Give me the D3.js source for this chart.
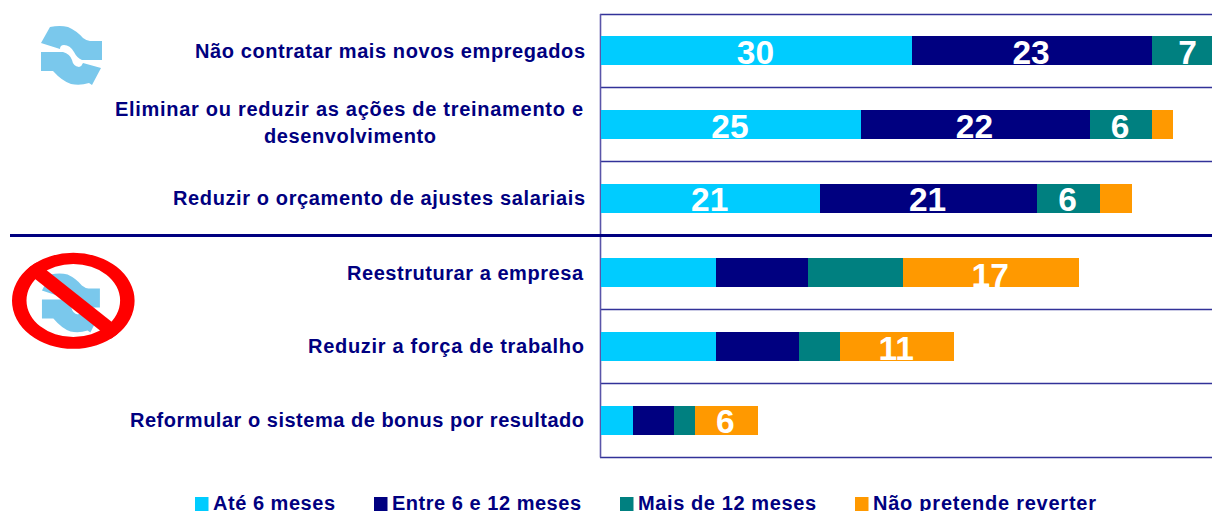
<!DOCTYPE html>
<html><head><meta charset="utf-8">
<script src="https://cdn.jsdelivr.net/npm/d3@7"></script>
<style>html,body{margin:0;padding:0;background:#fff;overflow:hidden}svg{display:block}
text{font-family:"Liberation Sans",Arial,sans-serif;font-weight:bold}</style></head>
<body><div id="c"></div>
<script>
const categories = [
  ["Não contratar mais novos empregados"],
  ["Eliminar ou reduzir as ações de treinamento e","desenvolvimento"],
  ["Reduzir o orçamento de ajustes salariais"],
  ["Reestruturar a empresa"],
  ["Reduzir a força de trabalho"],
  ["Reformular o sistema de bonus por resultado"]
];
const seriesNames = ["Até 6 meses","Entre 6 e 12 meses","Mais de 12 meses","Não pretende reverter"];
const seriesColors = ["#00ccff","#000080","#008080","#ff9900"];
const upTo6 = [29.9,25,21.1,11.05,11.05,3.1];
const from6to12 = [23.1,22,20.8,8.85,8,3.9];
const over12 = [7,6,6.1,9.15,3.95,2];
const noRevert = [0,2,3.1,16.95,10.95,6.1];
const labelled = [[1,1,1,0,0,0],[1,1,1,0,0,0],[1,1,1,0,0,0],[0,0,0,1,1,1]];
const W=1212,H=511;
const svg=d3.select("#c").append("svg").attr("width",W).attr("height",H);

const x=d3.scaleLinear().domain([0,58.3]).range([601,1207.3]);
const y=d3.scaleBand().domain(d3.range(categories.length)).range([14,457.5]);
const barH=29;
const navy="#000080";

// grid
const g=svg.append("g");
d3.range(categories.length+1).forEach(i=>{
  const yy=i<categories.length? y(i):457;
  if(i===3) return;
  g.append("line").attr("x1",600).attr("x2",W).attr("y1",Math.floor(yy)+.5).attr("y2",Math.floor(yy)+.5)
    .attr("stroke",navy).attr("stroke-width",1.3).attr("opacity",.8);
});
g.append("line").attr("x1",600.5).attr("x2",600.5).attr("y1",14).attr("y2",457.5).attr("stroke","#5a55a8").attr("stroke-width",1.6);

// bars
const all=[upTo6,from6to12,over12,noRevert];
const stack=d3.stack().keys([0,1,2,3]).value((d,k)=>all[k][d])(d3.range(categories.length));
const barY=i=>Math.round(y(i)+y.bandwidth()/2-barH/2);
stack.forEach((s,k)=>{
  s.forEach((d,i)=>{
    if(d[1]===d[0])return;
    svg.append("rect").attr("x",Math.round(x(d[0]))).attr("y",barY(i))
      .attr("width",Math.round(x(d[1]))-Math.round(x(d[0]))).attr("height",barH).attr("fill",seriesColors[k]);
  });
});
// value labels
const valueDy=[27.5,27.5,26.5,28.5,27.5,27];
stack.forEach((s,k)=>{
  s.forEach((d,i)=>{
    if(!labelled[k][i])return;
    const cx=(x(d[0])+x(d[1]))/2-1;
    svg.append("text").attr("x",cx).attr("y",barY(i)+valueDy[i])
      .attr("text-anchor","middle").attr("font-size",33.5).attr("fill","#fff").text(Math.round(all[k][i]));
  });
});

// heavy separator
svg.append("line").attr("x1",10).attr("x2",W).attr("y1",235.5).attr("y2",235.5).attr("stroke",navy).attr("stroke-width",3);

// category labels
const labelRight=[585,583,585,583,584,584];
const labelWidth=[[390],[468,172],[412],[236],[276],[454]];
const labelDy=[7.5,6,6,7,6,6];
categories.forEach((lines,i)=>{
  const cy=y(i)+y.bandwidth()/2;
  lines.forEach((t,j)=>{
    svg.append("text").attr("x",(lines.length>1&&j===1?436:labelRight[i])-labelWidth[i][j])
      .attr("y",lines.length===1?cy+labelDy[i]:cy-9+j*27.5)
      .attr("textLength",labelWidth[i][j]).attr("lengthAdjust","spacing")
      .attr("font-size",20).attr("fill",navy).text(t);
  });
});

// legend
const legendX=[195,374,620,855];
const legendTextX=[213,392,638,873];
const legendWidth=[122,189,178,223];
seriesNames.forEach((t,k)=>{
  svg.append("rect").attr("x",legendX[k]).attr("y",497).attr("width",13.5).attr("height",14).attr("fill",seriesColors[k]);
  svg.append("text").attr("x",legendTextX[k]).attr("y",509.5).attr("font-size",20)
    .attr("textLength",legendWidth[k]).attr("lengthAdjust","spacing").attr("fill",navy).text(t);
});

// swap icon
const iconPath="M41,43 L50,27 Q60,25 68,27 Q77,31 83,38 Q87,41 90,41 L102,41 L102,60 L82,60 Q77,58 74,52 Q70,45 64,45 Q60,45 60,49 Z "+
 "M41,52 L63,52 Q70,54 72,60 Q73,66 79,67 Q82,66 83,63 L101,68 L92,85 L89,83 Q80,86 71,84 Q62,81 53,71 L41,71 Z";
const blue="#7ac8ec";
svg.append("path").attr("d",iconPath).attr("fill",blue);
svg.append("path").attr("d",iconPath).attr("transform","translate(3,247.5) scale(0.95,1)").attr("fill",blue);
// prohibition sign
const ell=(cx,cy,rx,ry)=>`M${cx-rx},${cy}A${rx},${ry} 0 1,0 ${cx+rx},${cy}A${rx},${ry} 0 1,0 ${cx-rx},${cy}Z`;
svg.append("clipPath").attr("id","sign").append("path").attr("d",ell(73.3,300.8,61.3,48));
svg.append("path").attr("fill-rule","evenodd").attr("fill","#ff0000")
  .attr("d",ell(73.3,300.8,61.3,48)+ell(73.3,300.5,46.8,36.5));
svg.append("line").attr("x1",30).attr("y1",266).attr("x2",117).attr("y2",335).attr("stroke","#ff0000").attr("stroke-width",14).attr("clip-path","url(#sign)");
</script></body></html>
